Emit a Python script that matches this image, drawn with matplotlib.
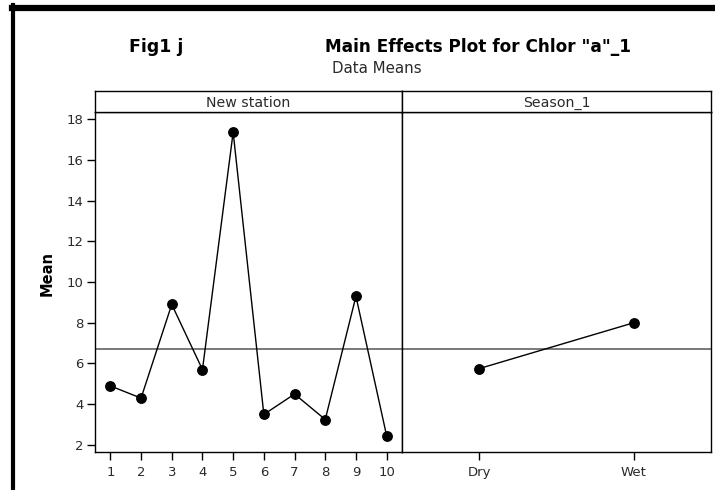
import matplotlib
matplotlib.use("Agg")
import matplotlib.pyplot as plt
from matplotlib.lines import Line2D

# Main effects: mean chlorophyll "a" per station and per season
stations = ["1", "2", "3", "4", "5", "6", "7", "8", "9", "10"]
station_means = [4.9, 4.3, 8.9, 5.7, 17.35, 3.5, 4.5, 3.25, 9.3, 2.45]
seasons = ["Dry", "Wet"]
season_means = [5.75, 8.0]
grand_mean = 6.7
y_ticks = [2, 4, 6, 8, 10, 12, 14, 16, 18]

plt.rcParams["font.family"] = ["DejaVu Sans"]

W, H = 715, 490
fig = plt.figure(figsize=(W / 100, H / 100), dpi=100)


def box(l, t, r, b):
    return [l / W, 1 - b / H, (r - l) / W, (b - t) / H]


ax1 = fig.add_axes(box(95, 112.3, 402, 452))
ax2 = fig.add_axes(box(402, 112.3, 711, 452), sharey=ax1)
strip1 = fig.add_axes(box(95, 90.7, 402, 112.3))
strip2 = fig.add_axes(box(402, 90.7, 711, 112.3))

tick_color = "#2a2a2a"
for ax, labels, means in ((ax1, stations, station_means), (ax2, seasons, season_means)):
    xs = list(range(1, len(labels) + 1))
    ax.axhline(grand_mean, color="#6e6e6e", lw=1.3, zorder=1)
    ax.plot(xs, means, color="black", lw=1.0, marker="o", ms=6.8,
            mfc="black", mec="black", zorder=3)
    ax.set_xticks(xs)
    ax.set_xticklabels(labels)
    ax.set_xlim(0.5, len(labels) + 0.5)
    for s in ax.spines.values():
        s.set_linewidth(1.0)
        s.set_color("black")
    ax.tick_params(axis="x", direction="out", length=6, width=1.0,
                   pad=4, labelsize=9.5, labelcolor=tick_color)

ax1.set_ylim(1.656, 18.33)
ax1.set_yticks(y_ticks)
ax1.tick_params(axis="y", direction="out", length=6, width=1.0,
                pad=2, labelsize=9.5, labelcolor=tick_color)
ax2.tick_params(axis="y", left=False, labelleft=False)

for st, name in ((strip1, "New station"), (strip2, "Season_1")):
    st.set_xticks([])
    st.set_yticks([])
    for s in st.spines.values():
        s.set_linewidth(1.0)
        s.set_color("black")
    st.text(0.5, 0.45, name, ha="center", va="center", fontsize=10.2,
            color=tick_color, transform=st.transAxes)

fig.text(46.7 / W, 1 - 273.5 / H, "Mean", rotation=90, ha="center",
         va="center", fontsize=10.5, fontweight="bold")
fig.text(156.5 / W, 1 - 46.7 / H, "Fig1 j", ha="center", va="center",
         fontsize=12.5, fontweight="bold")
fig.text(478.5 / W, 1 - 46.7 / H, 'Main Effects Plot for Chlor "a"_1',
         ha="center", va="center", fontsize=12.2, fontweight="bold")
fig.text(376.5 / W, 1 - 68.3 / H, "Data Means", ha="center", va="center",
         fontsize=10.8, color=tick_color)

# page frame: heavy rule along the top and left edge
fig.add_artist(Line2D([12 / W, 1.0], [1 - 8 / H, 1 - 8 / H],
                      transform=fig.transFigure, color="black", lw=4.5))
fig.add_artist(Line2D([13 / W, 13 / W], [0, 1 - 5 / H],
                      transform=fig.transFigure, color="black", lw=3.0))

fig.savefig("out.png", dpi=100)
